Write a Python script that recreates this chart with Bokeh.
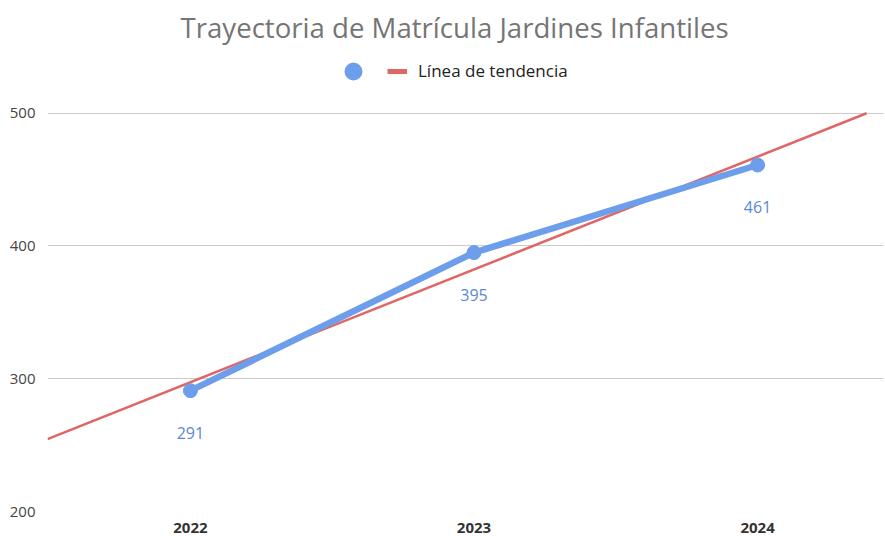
import numpy as np
from bokeh.plotting import figure
from bokeh.models import (ColumnDataSource, FixedTicker, Legend, LegendItem, Range1d,
                          LabelSet, Title)
from bokeh.core.properties import value
from bokeh.embed import file_html
from bokeh.resources import INLINE

# ---- data ----
years = [2022, 2023, 2024]
matricula = [291, 395, 461]
year_labels = ["2022", "2023", "2024"]
y_ticks = [200, 300, 400, 500]
title_text = "Trayectoria de Matrícula Jardines Infantiles"
trend_label = "Línea de tendencia"

BLUE = "#6D9EEB"
BLUE_TXT = "#5B87D3"
RED = "#E06666"
FONT = "Open Sans"

# layout (pixels)
W, H = 885, 536
FRAME_L, FRAME_R, FRAME_T, FRAME_B = 47, 883, 48, 511
Y500_PX = 111  # pixel row of the top gridline

x_start, x_end = 2021.496, 2024.444
y_start, y_top_tick = 200, 500
y_end = y_top_tick + (Y500_PX - FRAME_T) * (y_top_tick - y_start) / (FRAME_B - Y500_PX)

p = figure(width=W, height=H, output_backend="svg", toolbar_location=None,
           x_range=Range1d(x_start, x_end), y_range=Range1d(y_start, y_end),
           title=None)
p.min_border_left = FRAME_L
p.min_border_right = W - FRAME_R
p.min_border_top = FRAME_T
p.min_border_bottom = H - FRAME_B
p.outline_line_color = None
p.background_fill_color = "white"
p.border_fill_color = "white"

# grid
p.xgrid.grid_line_color = None
p.ygrid.ticker = FixedTicker(ticks=y_ticks)
p.ygrid.grid_line_color = "#CCCCCC"
p.ygrid.grid_line_width = 1

# axes
p.yaxis.ticker = FixedTicker(ticks=y_ticks)
p.yaxis.axis_line_color = None
p.yaxis.major_tick_line_color = None
p.yaxis.minor_tick_line_color = None
p.yaxis.major_label_text_font = FONT
p.yaxis.major_label_text_font_size = "15px"
p.yaxis.major_label_text_color = "#444444"
p.yaxis.major_label_standoff = 6

p.xaxis.ticker = FixedTicker(ticks=years)
p.xaxis.major_label_overrides = {y: l for y, l in zip(years, year_labels)}
p.xaxis.axis_line_color = None
p.xaxis.major_tick_line_color = None
p.xaxis.minor_tick_line_color = None
p.xaxis.major_label_text_font = FONT
p.xaxis.major_label_text_font_size = "15px"
p.xaxis.major_label_text_font_style = "bold"
p.xaxis.major_label_text_color = "#333333"
p.xaxis.major_label_standoff = 5

# trend line (least squares fit of the data), clipped at the top gridline
slope, intercept = np.polyfit(years, matricula, 1)
x_hit = min(x_end, (y_top_tick - intercept) / slope)
tx = [x_start, x_hit]
ty = [slope * x + intercept for x in tx]
trend = p.line(tx, ty, line_color=RED, line_width=2.5)

src = ColumnDataSource(dict(x=years, y=matricula, lbl=[str(v) for v in matricula]))
p.line("x", "y", source=src, line_color=BLUE, line_width=6.5, line_cap="round")
pts = p.scatter("x", "y", source=src, size=14, fill_color=BLUE, line_color=BLUE)

labels = LabelSet(x="x", y="y", text="lbl", source=src, x_offset=0, y_offset=-42,
                  text_align="center", text_baseline="middle", text_font=value(FONT),
                  text_font_size="16px", text_color=BLUE_TXT)
p.add_layout(labels)

# legend icons (renderers that draw nothing in the plot area)
nan_src = ColumnDataSource(dict(x=[np.nan], y=[np.nan]))
marker_icon = p.scatter("x", "y", source=nan_src, size=8, fill_color=BLUE,
                        line_color=BLUE, line_width=10)
trend_icon = p.line("x", "y", source=nan_src, line_color=RED, line_width=5)
legend = Legend(items=[LegendItem(label=" ", renderers=[marker_icon]),
                       LegendItem(label=trend_label, renderers=[trend_icon])],
                orientation="horizontal",
                location=(343 - FRAME_L, FRAME_B - 82), glyph_width=20, glyph_height=20,
                padding=0, margin=0, spacing=0, label_standoff=11,
                label_width=13, label_height=20,
                border_line_color=None, background_fill_alpha=0,
                label_text_font=FONT, label_text_font_size="17px",
                label_text_color="#222222")
p.add_layout(legend)

p.add_layout(Title(text=title_text, align="left", offset=133, standoff=10,
                   text_font=FONT, text_font_size="27.6px", text_font_style="normal",
                   text_color="#757575"), "above")

open("out.html", "w").write(file_html(p, INLINE))
